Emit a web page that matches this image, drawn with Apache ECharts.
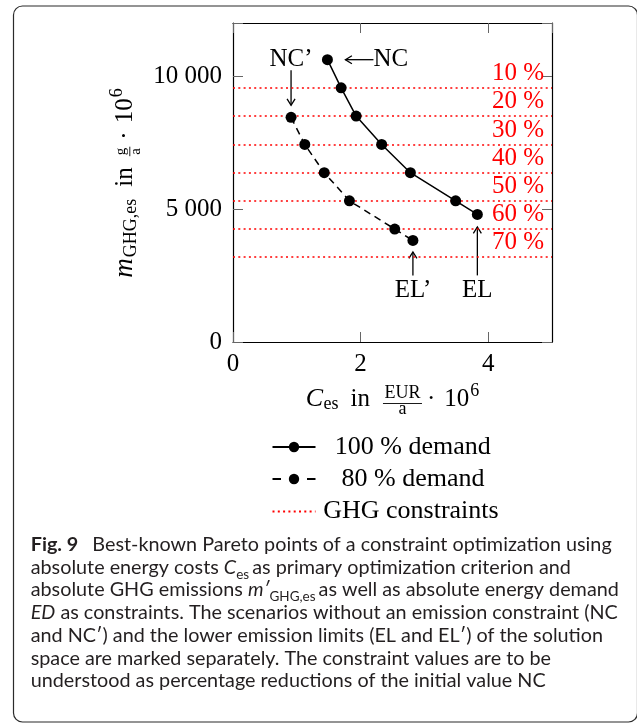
<!DOCTYPE html>
<html><head><meta charset="utf-8">
<script src="https://cdn.jsdelivr.net/npm/echarts@6/dist/echarts.min.js"></script>
<style>html,body{margin:0;padding:0;background:#fff}#c{width:637px;height:727px}</style>
</head><body><div id="c"></div>
<script>
// ---------- data ----------
const cost100 = [1.48, 1.695, 1.93, 2.33, 2.78, 3.49, 3.83];
const ghg100  = [10620, 9560, 8500, 7430, 6370, 5310, 4800];
const cost80  = [0.91, 1.125, 1.43, 1.825, 2.535, 2.82];
const ghg80   = [8450, 7430, 6370, 5310, 4250, 3820];
const constraintValues = [9560, 8500, 7430, 6370, 5310, 4250, 3190];
const constraintLabels = ['10 %', '20 %', '30 %', '40 %', '50 %', '60 %', '70 %'];
const xTickValues = [0, 2, 4];
const xTickLabels = ['0', '2', '4'];
const yTickValues = [0, 5000, 10000];
const yTickLabels = ['0', '5 000', '10 000'];
const seriesNames = ['100 % demand', '80 % demand', 'GHG constraints'];

const SERIF = 'Liberation Serif';
const SANS = 'Lato';

const chart = echarts.init(document.getElementById('c'), null, {renderer: 'canvas'});

const pairs = (xs, ys) => xs.map((x, i) => [x, ys[i]]);
const pick = (vals, labs) => v => { const i = vals.indexOf(v); return i >= 0 ? labs[i] : ''; };

const axisLineStyle = {color: '#000', width: 1.2};
const tickStyle = {show: true, inside: true, length: 10, lineStyle: {color: '#666', width: 1}};
const labelFont = {color: '#000', fontFamily: SERIF, fontSize: 25};

const legendTops = [434, 466, 498.5];
const legendTextPad = [14.3, 21, 2.7];
const legendExtra = [
  {lineStyle: {width: 2}},
  {lineStyle: {width: 2, type: [8.5, 26]}},
  {itemStyle: {color: 'rgba(0,0,0,0)', borderWidth: 0, opacity: 0}}
];

const option = {
  animation: false,
  backgroundColor: '#fff',
  grid: {left: 233, top: 23, width: 319, height: 319, containLabel: false},
  xAxis: [
    {type: 'value', min: 0, max: 5, interval: 2, position: 'bottom',
     axisLine: {show: true, onZero: false, lineStyle: axisLineStyle},
     axisTick: tickStyle, splitLine: {show: false},
     axisLabel: Object.assign({margin: 10, showMaxLabel: false, formatter: pick(xTickValues, xTickLabels)}, labelFont)},
    {type: 'value', min: 0, max: 5, interval: 2, position: 'top',
     axisLine: {show: true, onZero: false, lineStyle: axisLineStyle},
     axisTick: tickStyle, splitLine: {show: false}, axisLabel: {show: false}}
  ],
  yAxis: [
    {type: 'value', min: 0, max: 12000, interval: 5000, position: 'left',
     axisLine: {show: true, onZero: false, lineStyle: axisLineStyle},
     axisTick: tickStyle, splitLine: {show: false},
     axisLabel: Object.assign({margin: 11, formatter: pick(yTickValues, yTickLabels)}, labelFont)},
    {type: 'value', min: 0, max: 12000, interval: 5000, position: 'right',
     axisLine: {show: true, onZero: false, lineStyle: axisLineStyle},
     axisTick: tickStyle, splitLine: {show: false}, axisLabel: {show: false}}
  ],
  legend: seriesNames.map((n, i) => Object.assign({
    data: [n], orient: 'vertical', left: 271.5, top: legendTops[i],
    itemWidth: 43, itemHeight: 13, padding: 0, selectedMode: false,
    textStyle: {fontFamily: SERIF, fontSize: 26, color: '#000', padding: [0, 0, 0, legendTextPad[i]]}
  }, legendExtra[i])),
  series: [
    {name: seriesNames[2], type: 'line', data: [], symbol: 'none', z: 1,
     lineStyle: {color: '#ff0000', width: 1.6, type: [2, 3.3]},
     itemStyle: {color: '#ff0000'},
     markLine: {
       silent: true, symbol: ['none', 'none'], z: 1,
       lineStyle: {color: '#ff0000', width: 1.6, type: [2, 3.3]},
       label: {show: true, position: 'insideEndTop', distance: [8, 2], color: '#ff0000',
               fontFamily: SERIF, fontSize: 25},
       data: constraintValues.map((v, i) => ({yAxis: v, label: {formatter: constraintLabels[i]}}))
     }},
    {name: seriesNames[0], type: 'line', data: pairs(cost100, ghg100), z: 3,
     symbol: 'circle', symbolSize: 11,
     lineStyle: {color: '#000', width: 1.5}, itemStyle: {color: '#000'}},
    {name: seriesNames[1], type: 'line', data: pairs(cost80, ghg80), z: 3,
     symbol: 'circle', symbolSize: 11,
     lineStyle: {color: '#000', width: 1.5, type: [7, 5]}, itemStyle: {color: '#000'}}
  ]
};
chart.setOption(option);

// ---------- text layout helpers ----------
const cv = document.createElement('canvas').getContext('2d');
function fstr(p) { return (p.it ? 'italic ' : '') + (p.bold ? 'bold ' : '') + p.size + 'px "' + p.fam + '"'; }
function mw(p) { cv.font = fstr(p); return cv.measureText(p.t).width; }
function moff(p) { cv.font = fstr(p); const m = cv.measureText('H'); return (m.fontBoundingBoxAscent - m.fontBoundingBoxDescent) / 2; }
function txt(p, x, color) {
  return {type: 'text', silent: true, style: {
    text: p.t, x: x, y: (p.dy || 0) - moff(p), font: fstr(p), fill: color,
    align: 'left', verticalAlign: 'middle', textAlign: 'left', textVerticalAlign: 'middle'}};
}
function run(pieces, color) {
  let x = 0; const els = [];
  for (const p of pieces) {
    if (p.frac) {
      const wn = mw(p.num), wd = mw(p.den), w = Math.max(wn, wd) + 2 * (p.pad || 1);
      els.push(txt(p.num, x + (w - wn) / 2, color));
      els.push(txt(p.den, x + (w - wd) / 2, color));
      els.push({type: 'line', silent: true, shape: {x1: x, y1: p.bar, x2: x + w, y2: p.bar},
                style: {stroke: color, lineWidth: 0.9}});
      x += w + (p.gap || 0);
    } else {
      els.push(txt(p, x, color));
      x += mw(p) + (p.gap || 0);
    }
  }
  return {els, w: x};
}
const S = (t, o) => Object.assign({t: t, size: 25, fam: SERIF}, o || {});
const C = (t, o) => Object.assign({t: t, size: 19.8, fam: SANS}, o || {});

// x axis title
const xTitle = run([
  S('C', {it: true, size: 26, gap: 0.5}),
  S('es', {size: 18, dy: 2.5, gap: 12}),
  S('in', {gap: 13}),
  {frac: true, num: S('EUR', {size: 18, dy: -9}), den: S('a', {size: 18, dy: 7.5}), bar: -4.5, pad: 1.5, gap: 5},
  S('·', {gap: 9}),
  S('10', {gap: 1}),
  S('6', {size: 18, dy: -11})
], '#000');

// y axis title
const yTitle = run([
  S('m', {it: true, size: 27, gap: 1}),
  S('GHG,es', {size: 18, dy: 3, gap: 12}),
  S('in', {gap: 11}),
  {frac: true, num: S('g', {size: 15, dy: -8}), den: S('a', {size: 15, dy: 6.5}), bar: -4.5, pad: 1, gap: 7},
  S('·', {gap: 8}),
  S('10', {gap: 1}),
  S('6', {size: 18, dy: -11})
], '#000');

// caption
const capColor = '#231f20';
const captionLines = [
  [C('Fig. 9', {bold: true, gap: 14}), C('Best-known Pareto points of a constraint optimization using')],
  [C('absolute energy costs '), C('C', {it: true}), C('es', {size: 13.5, dy: 4, gap: 3}), C('as primary optimization criterion and')],
  [C('absolute GHG emissions '), C('m′', {it: true}), C('GHG,es', {size: 13.5, dy: 4, gap: 3}), C('as well as absolute energy demand')],
  [C('ED', {it: true}), C(' as constraints. The scenarios without an emission constraint (NC')],
  [C('and NC′) and the lower emission limits (EL and EL′) of the solution')],
  [C('space are marked separately. The constraint values are to be')],
  [C('understood as percentage reductions of the initial value NC')]
];
const capBase0 = 552.7, capPitch = 22.7;

function arrow(x1, y1, x2, y2) {
  const a = Math.atan2(y2 - y1, x2 - x1), L = 6.5, W = 4;
  const bx = x2 - L * Math.cos(a), by = y2 - L * Math.sin(a);
  const nx = -Math.sin(a), ny = Math.cos(a);
  return [
    {type: 'line', silent: true, shape: {x1, y1, x2, y2}, style: {stroke: '#000', lineWidth: 1.3}},
    {type: 'polyline', silent: true, shape: {points: [[bx + nx * W, by + ny * W], [x2, y2], [bx - nx * W, by - ny * W]]},
     style: {stroke: '#000', lineWidth: 1.3, fill: null}}
  ];
}
function label(t, x, y, align) {
  const p = S(t);
  return {type: 'text', silent: true, style: {text: t, x: x, y: y, font: fstr(p), fill: '#000',
    align: align, verticalAlign: 'middle', textAlign: align, textVerticalAlign: 'middle'}};
}

const px = (x, y) => chart.convertToPixel({xAxisIndex: 0, yAxisIndex: 0}, [x, y]);
const pNC = px(cost100[0], ghg100[0]);
const pNC2 = px(cost80[0], ghg80[0]);
const pEL = px(cost100[cost100.length - 1], ghg100[ghg100.length - 1]);
const pEL2 = px(cost80[cost80.length - 1], ghg80[ghg80.length - 1]);

const graphics = [
  {type: 'rect', silent: true, shape: {x: 13.5, y: 6, width: 624, height: 716, r: 9},
   style: {fill: null, stroke: '#2b2b2b', lineWidth: 1.2}},
  {type: 'group', x: 392.5 - xTitle.w / 2, y: 408, children: xTitle.els},
  {type: 'group', x: 134.3, y: 183 + yTitle.w / 2, rotation: Math.PI / 2, children: yTitle.els},
  ...captionLines.map((ln, i) => ({type: 'group', x: 30.7, y: capBase0 + i * capPitch, children: run(ln, capColor).els})),
  ...arrow(pNC[0] + 46, pNC[1], pNC[0] + 18, pNC[1]),
  label('NC', pNC[0] + 46, pNC[1], 'left'),
  ...arrow(pNC2[0], pNC2[1] - 47, pNC2[0], pNC2[1] - 12),
  label('NC’', pNC2[0], pNC2[1] - 58, 'center'),
  ...arrow(pEL2[0], pEL2[1] + 35, pEL2[0], pEL2[1] + 11.5),
  label('EL’', pEL2[0], pEL2[1] + 50, 'center'),
  ...arrow(pEL[0], pEL[1] + 61, pEL[0], pEL[1] + 12.5),
  label('EL', pEL[0], pEL[1] + 76, 'center')
];
chart.setOption({graphic: graphics});
</script>
</body></html>
